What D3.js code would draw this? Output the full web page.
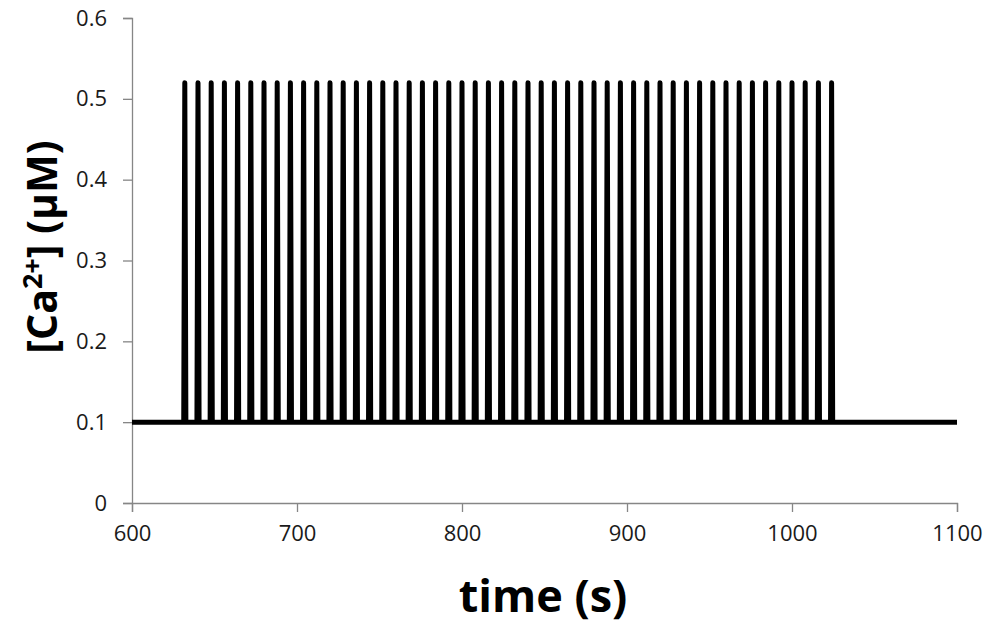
<!DOCTYPE html>
<html>
<head>
<meta charset="utf-8">
<script src="https://cdn.jsdelivr.net/npm/d3@7"></script>
<style>
  html, body { margin: 0; padding: 0; background: #fff; }
  svg { display: block; }
  text { font-family: "Open Sans", "Noto Sans", sans-serif; }
</style>
</head>
<body>
<script>
// ---- data ----
const xTicks = [600, 700, 800, 900, 1000, 1100];
const yTicks = [0, 0.1, 0.2, 0.3, 0.4, 0.5, 0.6];
const xDomain = [600, 1100];
const yDomain = [0, 0.6];
const baseline = 0.1;      // resting [Ca2+] (µM)
const peak = 0.52;         // spike amplitude (µM)
const halfWidth = 0.65;    // half-width of each spike (s)
const spikeTimes = [
  632, 640, 648, 656, 664, 672, 680, 688, 696, 704,
  712, 720, 728, 736, 744, 752, 760, 768, 776, 784,
  792, 800, 808, 816, 824, 832, 840, 848, 856, 864,
  872, 880, 888, 896, 904, 912, 920, 928, 936, 944,
  952, 960, 968, 976, 984, 992, 1000, 1008, 1016, 1024
];

// build the trace from the data
const trace = [{t: xDomain[0], c: baseline}];
spikeTimes.forEach(t => {
  trace.push({t: t - halfWidth, c: baseline});
  trace.push({t: t, c: peak});
  trace.push({t: t + halfWidth, c: baseline});
});
trace.push({t: xDomain[1], c: baseline});

const W = 987, H = 626;
const margin = {left: 132, right: 30, top: 18, bottom: 123};
const svg = d3.select("body").append("svg").attr("width", W).attr("height", H);

const x = d3.scaleLinear().domain(xDomain).range([margin.left, W - margin.right]);
const y = d3.scaleLinear().domain(yDomain).range([H - margin.bottom, margin.top]);

const axisColor = "#868686";

// x axis
const gx = svg.append("g")
  .attr("transform", `translate(0,${y(0)})`)
  .call(d3.axisBottom(x).tickValues(xTicks).tickSize(9).tickPadding(13).tickFormat(d3.format("d")));
// y axis
const gy = svg.append("g")
  .attr("transform", `translate(${x(600)},0)`)
  .call(d3.axisLeft(y).tickValues(yTicks).tickSize(9).tickPadding(16).tickFormat(d => d === 0 ? "0" : d3.format(".1f")(d)));

[gx, gy].forEach(g => {
  g.select(".domain").attr("stroke", axisColor).attr("stroke-width", 1.3);
  g.selectAll(".tick line").attr("stroke", axisColor).attr("stroke-width", 1.3);
  g.selectAll(".tick text").attr("fill", "#1a1a1a").attr("font-size", 22)
    .attr("font-family", "'Open Sans', sans-serif");
});

// trace
const line = d3.line().x(d => x(d.t)).y(d => y(d.c));
svg.append("path")
  .datum(trace)
  .attr("d", line)
  .attr("fill", "none")
  .attr("stroke", "#000")
  .attr("stroke-width", 5)
  .attr("stroke-linejoin", "round")
  .attr("stroke-linecap", "butt");

// x title
svg.append("text")
  .attr("x", 543).attr("y", 612)
  .attr("text-anchor", "middle")
  .attr("font-size", 45).attr("font-weight", "bold").attr("fill", "#000")
  .text("time (s)");

// y title
const yt = svg.append("text")
  .attr("transform", "translate(57,247) rotate(-90)")
  .attr("text-anchor", "middle")
  .attr("font-size", 41).attr("font-weight", "bold").attr("fill", "#000");
yt.append("tspan").text("[Ca");
yt.append("tspan").attr("font-size", 27).attr("dy", -15).text("2+");
yt.append("tspan").attr("dy", 15).text("] (μM)");
</script>
</body>
</html>
